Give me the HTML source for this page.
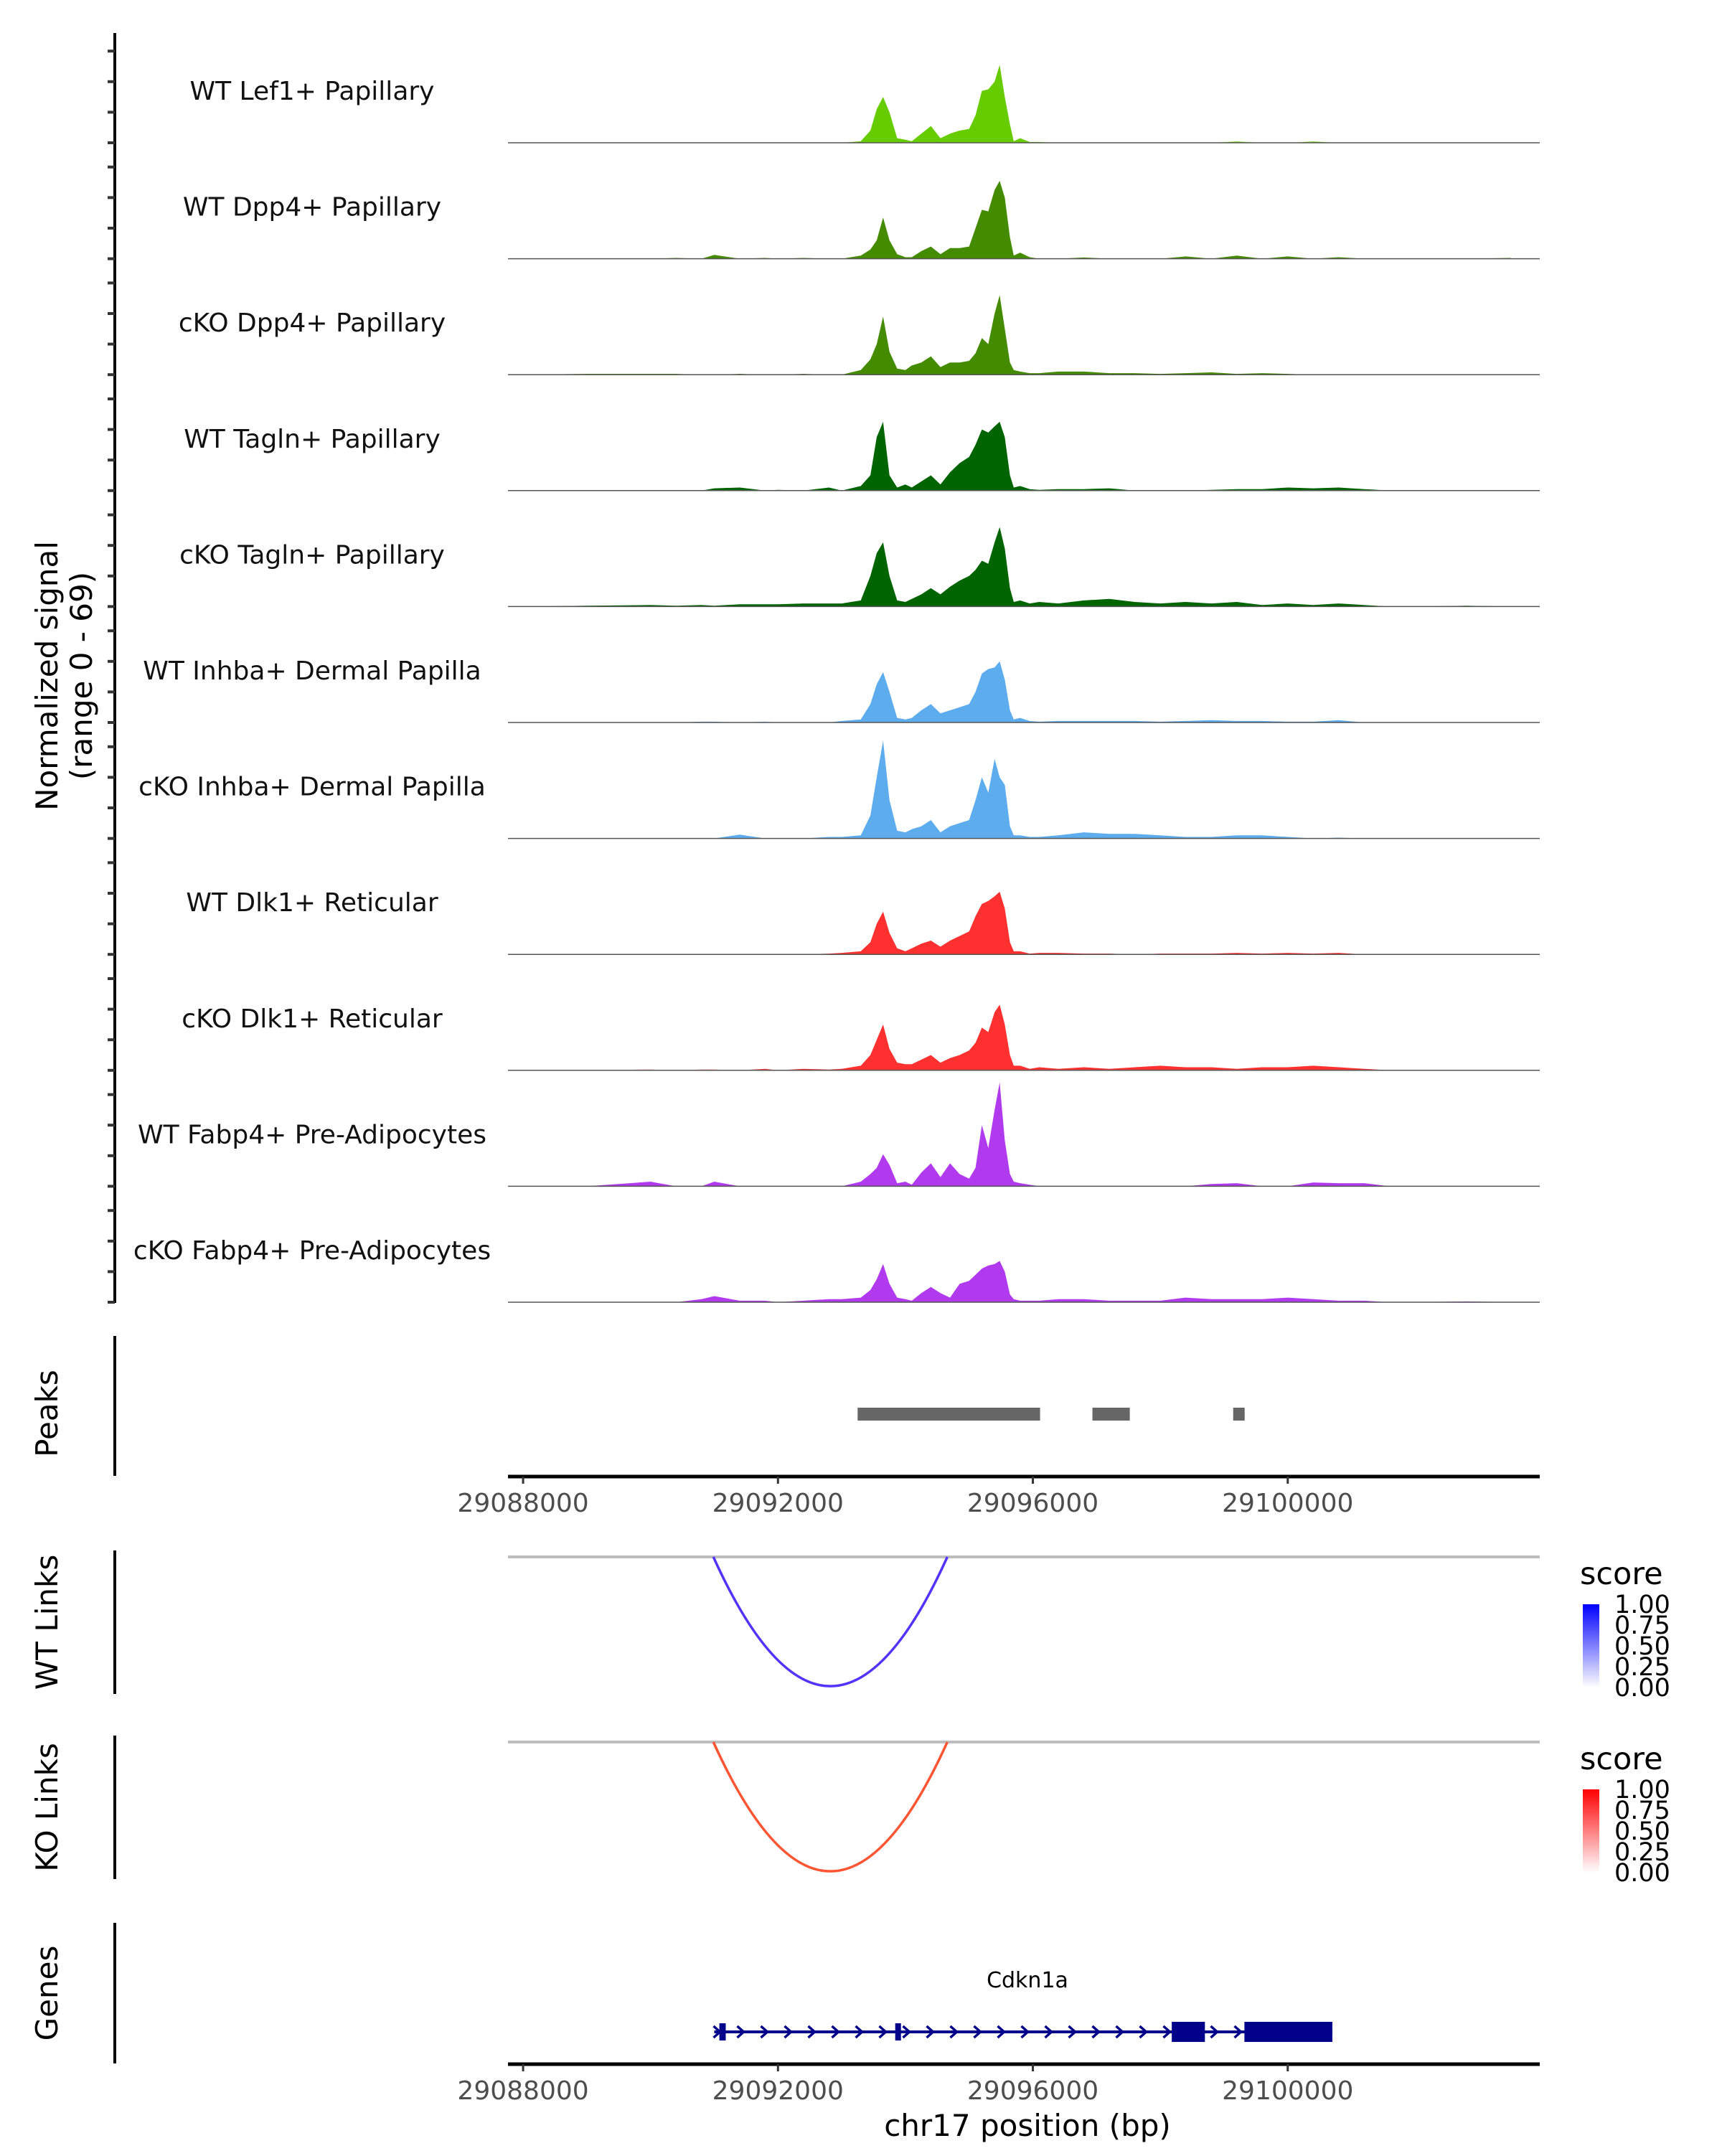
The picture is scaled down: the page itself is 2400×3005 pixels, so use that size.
<!DOCTYPE html>
<html><head><meta charset="utf-8"><style>
html,body{margin:0;padding:0;background:#fff;}
svg text{font-family:"DejaVu Sans","Liberation Sans",sans-serif;}
</style></head><body>
<svg id="chart" xmlns="http://www.w3.org/2000/svg" width="2400" height="3000" viewBox="0 0 2400 3000">
<rect width="2400" height="3000" fill="#fff"/>
<g id="tracks"></g>
<text transform="translate(80,942) rotate(-90)" font-size="42" text-anchor="middle">Normalized signal</text>
<text transform="translate(128,942) rotate(-90)" font-size="42" text-anchor="middle">(range 0 - 69)</text>
<g id="peaks"></g>
<g id="links"></g>
<g id="genes"></g>
<defs>
<linearGradient id="gblue" x1="0" y1="0" x2="0" y2="1"><stop offset="0" stop-color="#0000ff"/><stop offset="1" stop-color="#ffffff"/></linearGradient>
<linearGradient id="gred" x1="0" y1="0" x2="0" y2="1"><stop offset="0" stop-color="#ff0000"/><stop offset="1" stop-color="#ffffff"/></linearGradient>
</defs>
</svg>
<script>
const positions=[29088000,29089000,29090000,29090400,29090800,29091000,29091400,29091800,29092000,29092400,29092800,29093000,29093300,29093450,29093550,29093650,29093750,29093870,29094000,29094100,29094250,29094400,29094550,29094700,29094850,29095000,29095100,29095200,29095300,29095400,29095480,29095560,29095640,29095700,29095800,29095950,29096100,29096400,29096800,29097200,29097600,29098000,29098400,29098800,29099200,29099600,29100000,29100400,29100800,29101200,29101600,29102000,29102800,29103500];
const trackNames=["WT Lef1+ Papillary","WT Dpp4+ Papillary","cKO Dpp4+ Papillary","WT Tagln+ Papillary","cKO Tagln+ Papillary","WT Inhba+ Dermal Papilla","cKO Inhba+ Dermal Papilla","WT Dlk1+ Reticular","cKO Dlk1+ Reticular","WT Fabp4+ Pre-Adipocytes","cKO Fabp4+ Pre-Adipocytes"];
const trackColors=["#66cc00","#458b00","#458b00","#006400","#006400","#5cacee","#5cacee","#ff3030","#ff3030","#b23aee","#b23aee"];
const wtLef1=[0,0,0,0,0,0,0,0,0,0,0,0,1,8,22,30,20,3,2,1,6,11,3,6,8,9,18,34,35,40,51,30,12,1,3,0.5,0.5,0,0,0,0,0,0,0,0.8,0,0,0.8,0,0,0,0,0,0];
const wtDpp4=[0,0,0,0.5,0,2.5,0,0.5,0,0.5,0,0,2,6,12,27,12,3,1,1,5,8,3,7,7,8,20,32,31,45,51,40,14,2,4,1,0,0,0.8,0,0,0,1.5,0,2,0,1.5,0,1,0,0,0,0,0.5];
const koDpp4=[0,0.5,0.5,0.5,0,0,0.5,0,0,0.5,0,0,3,10,20,38,15,4,3,6,8,12,5,8,8,9,14,24,20,40,52,30,8,3,2,1,1,2,2,1,1,0.5,1,1.5,0.5,1,0.5,0,0,0,0,0,0,0];
const wtTagln=[0,0,0,0,0,1.5,2,0,0.5,0,2,0,3,10,35,45,10,2,4,2,6,10,4,12,18,22,30,40,38,42,45,35,10,2,3,1,0.5,1,1,1.5,0,0,0,0.5,1,1,2,1.5,2,1,0,0,0,0];
const koTagln=[0,0.5,1,0.5,1,0.5,1.5,1.5,1.5,2,2,2,4,20,35,42,20,4,3,5,8,12,8,13,17,20,24,30,28,42,52,38,12,3,4,2,3,2,4,5,3,2,3,2,3,1,2,1,2,1,0,0,0.5,0];
const wtInhba=[0,0,0,0,0.5,0.5,0,0.5,0,0,0,1,2,12,25,33,20,3,2,3,8,12,6,8,10,12,20,32,35,36,40,28,8,2,3,1,0.5,1,1,1,1,0.5,1,1.5,1,1,0.5,0.5,1.5,0,0,0,0,0];
const koInhba=[0,0,0,0,0,0,2.5,0,0,0,1,1,2,15,40,64,25,5,4,6,8,12,4,8,10,12,25,40,30,52,40,35,8,2,2,1,1,2,4,3,3,2,1,1,2,2,1,0,0.5,0,0,0,0,0];
const wtDlk1=[0,0,0,0,0,0,0,0,0,0,0.5,1,2,8,20,28,14,4,2,4,7,9,5,9,12,15,25,33,35,38,41,30,8,2,2,0.5,1,1,0.5,0.5,0,0.5,0.5,0.5,1,0.5,1,0.5,1,0,0,0,0,0];
const koDlk1=[0,0,0.5,0,0.5,0.5,0,1,0,1,0.5,1,3,10,20,30,14,5,4,4,7,10,5,8,10,13,18,28,25,38,43,30,10,3,3,1,2,1,2,1,2,3,2,2,1,2,2,3,2,1,0,0,0,0];
const wtFabp4=[0,0,3,0,0,3,0,0,0,0,0,0,3,8,12,21,14,2,3,1,9,15,6,15,8,5,12,40,25,50,68,30,8,3,2,1,0,0,0,0,0,0,0,1.5,2,0,0,2.5,2,2,0,0,0,0];
const koFabp4=[0,0,0,0,2,4,1,1,0,1,2,2,3,8,15,25,12,3,2,1,6,10,6,3,12,14,18,22,24,25,27,20,5,2,1,1,1,2,2,1,1,1,3,2,2,2,3,2,1,1,0,0,0.5,0];
const trackValues=[wtLef1,wtDpp4,koDpp4,wtTagln,koTagln,wtInhba,koInhba,wtDlk1,koDlk1,wtFabp4,koFabp4];
const yTickValues=[0,20,40,60];
const xTickValues=[29088000,29092000,29096000,29100000];
const peakStarts=[29093250,29096935,29099144];
const peakEnds=[29096113,29097521,29099324];
const wtLinkStart=[29090986], wtLinkEnd=[29094658], wtLinkScore=[0.72];
const koLinkStart=[29090986], koLinkEnd=[29094658], koLinkScore=[0.72];
const legendTicks=["1.00","0.75","0.50","0.25","0.00"];
const geneName="Cdkn1a";
const geneStart=29091000, geneEnd=29100700;
const exonStarts=[29091080,29093840,29098180,29099320];
const exonEnds=[29091180,29093900,29098700,29100700];

const NS="http://www.w3.org/2000/svg";
const X0=708,X1=2146,D0=29087763,D1=29103955;
const xs=v=>X0+(v-D0)/(D1-D0)*(X1-X0);
const PXU=2.13;
function mk(tag,attrs,parent){const e=document.createElementNS(NS,tag);for(const k in attrs)e.setAttribute(k,attrs[k]);parent.appendChild(e);return e;}
const tracks=document.getElementById('tracks');
const axis=mk('line',{x1:160,y1:46,x2:160,y2:1816,stroke:'#000','stroke-width':4},tracks);


trackNames.forEach((name,i)=>{
  const base=199+161.6*i;
  const vals=trackValues[i];
  let d='M'+xs(positions[0])+','+base;
  positions.forEach((p,j)=>{d+=' L'+xs(p).toFixed(1)+','+(base-vals[j]*PXU).toFixed(1);});
  d+=' L'+xs(positions[positions.length-1])+','+base+' Z';
  const area=mk('path',{d:d,fill:trackColors[i]},tracks);
  
  
  const bl=mk('line',{x1:X0,y1:base,x2:X1,y2:base,stroke:'#555','stroke-width':1.5},tracks);
  
  
  const t=mk('text',{x:435,y:base-60,'font-size':36,'text-anchor':'middle',fill:'#111'},tracks);
  t.textContent=name;
  
  
  yTickValues.forEach(v=>{
    const tk=mk('line',{x1:150,x2:160,y1:base-v*PXU,y2:base-v*PXU,stroke:'#333','stroke-width':4},tracks);
    
    
  });
});
function sideLabel(g,text,y,name){const t=mk('text',{transform:'translate(80,'+y+') rotate(-90)','font-size':42,'text-anchor':'middle'},g);t.textContent=text;}
function vline(g,y1,y2){const l=mk('line',{x1:160,x2:160,y1:y1,y2:y2,stroke:'#000','stroke-width':4},g);}
function xAxis(g,y){
  const l=mk('line',{x1:X0,x2:X1,y1:y,y2:y,stroke:'#000','stroke-width':5},g);
  
  
  xTickValues.forEach(v=>{
    const tk=mk('line',{x1:xs(v),x2:xs(v),y1:y,y2:y+10,stroke:'#333','stroke-width':3},g);
    
    
    const t=mk('text',{x:xs(v),y:y+49,'font-size':36,'text-anchor':'middle',fill:'#4d4d4d'},g);
    t.textContent=String(v);
    
    
  });
}
const pk=document.getElementById('peaks');
vline(pk,1862,2057);
sideLabel(pk,'Peaks',1970,'peaks-label');
peakStarts.forEach((s,i)=>{
  const r=mk('rect',{x:xs(s),y:1962,width:xs(peakEnds[i])-xs(s),height:18,fill:'#666'},pk);
  
  
});
xAxis(pk,2058);
const lk=document.getElementById('links');
function linkPanel(top,bottom,label,name,starts,ends,scores,col,grad){
  vline(lk,top-9,bottom+9);
  sideLabel(lk,label,(top+bottom)/2,name+'-label');
  const gl=mk('line',{x1:X0,x2:X1,y1:top,y2:top,stroke:'#bdbdbd','stroke-width':4},lk);
  
  
  starts.forEach((s,i)=>{
    const a=xs(s),b=xs(ends[i]),depth=(bottom-top)*scores[i]/0.72*0.99;
    const p=mk('path',{d:'M'+a+','+top+' Q'+((a+b)/2)+','+(top+2*depth)+' '+b+','+top,fill:'none',stroke:col,'stroke-width':3.5},lk);
    
    
  });
  const lt=mk('text',{x:2202,y:top+38,'font-size':43},lk);
  lt.textContent='score';
  
  
  const cb=mk('rect',{x:2206,y:top+66,width:23,height:116,fill:'url(#'+grad+')'},lk);
  
  
  legendTicks.forEach((t,i)=>{
    const y=top+66+i*29;
    const tx=mk('text',{x:2250,y:y+12,'font-size':35},lk);
    tx.textContent=t;
    
    
  });
}
linkPanel(2170,2352,'WT Links','wt-links',wtLinkStart,wtLinkEnd,wtLinkScore,'#5533ff','gblue');
linkPanel(2428,2610,'KO Links','ko-links',koLinkStart,koLinkEnd,koLinkScore,'#ff5533','gred');
const gn=document.getElementById('genes');
vline(gn,2680,2876);
sideLabel(gn,'Genes',2778,'genes-label');
const gt=mk('text',{x:1432,y:2770,'font-size':30,'text-anchor':'middle'},gn);
gt.textContent=geneName;


const gy=2832;
const gline=mk('line',{x1:xs(geneStart),x2:xs(geneEnd),y1:gy,y2:gy,stroke:'#00008b','stroke-width':4},gn);


for(let x=xs(geneStart)+4;x<xs(exonStarts[3]);x+=33){
  const c=mk('path',{d:'M'+(x-5)+','+(gy-8)+' L'+(x+4)+','+gy+' L'+(x-5)+','+(gy+8),fill:'none',stroke:'#00008b','stroke-width':3.5},gn);
  
  
}
exonStarts.forEach((s,i)=>{
  const w=Math.max(xs(exonEnds[i])-xs(s),8), big=i>=2;
  const r=mk('rect',{x:xs(s),y:big?gy-14:gy-12,width:w,height:big?28:24,fill:'#00008b'},gn);
  
  
});
xAxis(gn,2877);
const xt=mk('text',{x:1432,y:2977,'font-size':42,'text-anchor':'middle'},gn);
xt.textContent='chr17 position (bp)';


</script>
</body></html>
